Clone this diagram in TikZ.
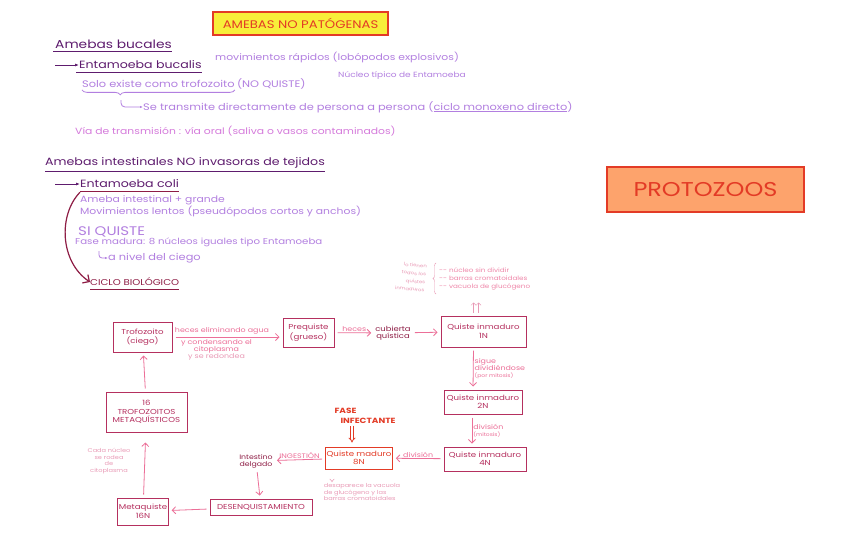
\documentclass[tikz,border=0pt]{standalone}
\usepackage{fontspec}
\setmainfont{Poppins}
\newfontfamily\wide{Poppins}[FakeStretch=1.2]
\usepackage{tikz}
\usetikzlibrary{arrows.meta,positioning,calc,decorations.pathreplacing}
\definecolor{titleyellow}{HTML}{F8EE3A}
\definecolor{titlered}{HTML}{E33B26}
\definecolor{deeppurple}{HTML}{5E1C6E}
\definecolor{lilac}{HTML}{B27FE0}
\definecolor{orchid}{HTML}{D57ADB}
\definecolor{wine}{HTML}{8E1D45}
\definecolor{rosebox}{HTML}{B5305F}
\definecolor{rosearrow}{HTML}{EC6F98}
\definecolor{rosenote}{HTML}{E99AB6}
\definecolor{peach}{HTML}{FDA36C}

\begin{document}
\begin{tikzpicture}[
  x=1pt,y=-1pt,
  hand/.style={inner sep=0pt,anchor=west},
  heading/.style={hand,text=deeppurple,font=\wide\fontsize{10.5}{12}\selectfont},
  soft/.style={hand,text=lilac,font=\wide\fontsize{9}{10}\selectfont},
  stage/.style={draw=rosebox,line width=1pt,text=rosebox,align=center,
    font=\wide\fontsize{7.2}{8.5}\selectfont,inner sep=1pt},
  note/.style={text=rosenote,align=center,inner sep=0pt,font=\wide\fontsize{5.5}{6.5}\selectfont},
  flow/.style={rosearrow,line width=0.8pt,-{Straight Barb[length=3.5pt]},shorten <=3pt,shorten >=3pt},
  lab/.style={text=rosearrow,inner sep=1pt,font=\wide\fontsize{6.6}{7.2}\selectfont}
]
\useasboundingbox[fill=white] (0,0) rectangle (848,544);

% titles
\node[draw=titlered,line width=1.2pt,fill=titleyellow,text=titlered,minimum width=175,
  minimum height=23,font=\wide\fontsize{11}{13}\selectfont] (title) at (300.5,23.5) {AMEBAS NO PATÓGENAS};
\node[draw=titlered,line width=2.5pt,fill=peach,text=titlered,minimum width=197,
  minimum height=45,font=\wide\fontsize{20}{24}\selectfont] (proto) at (705.5,189.5) {PROTOZOOS};

% amebas bucales
\node[heading,font=\wide\fontsize{11.5}{13}\selectfont] (bucales) at (55,44) {Amebas bucales};
\draw[deeppurple,line width=1.6pt] ([xshift=-2,yshift=-3]bucales.south west) -- ([yshift=-3]bucales.south east);
\coordinate (b0) at (55,65);
\node[heading] (bucalis) at (79,65) {Entamoeba bucalis};
\draw[deeppurple,thick,-{Latex[length=4pt]}] (b0) -- (bucalis.west);
\draw[deeppurple,line width=1.2pt] ([xshift=-3,yshift=-3]bucalis.south west) -- ([yshift=-3]bucalis.south east);
\node[soft] (mov) at (215,57) {movimientos rápidos (lobópodos explosivos)};
\node[soft,font=\wide\fontsize{9.5}{10}\selectfont] (solo1) at (82,84) {Solo existe como trofozoito};
\node[soft,font=\wide\fontsize{9.5}{10}\selectfont,right=2pt of solo1] (solo2) {(NO QUISTE)};
\node[soft,font=\wide\fontsize{7.5}{10}\selectfont] (nucleo) at (338,76) {Núcleo típico de Entamoeba};
\draw[lilac,thick,decorate,decoration={brace,mirror,amplitude=5pt,aspect=0.25}]
  ([yshift=-2]solo1.south west) -- ([yshift=-2]solo1.south east);
\coordinate (tip) at (121,100);
\node[soft,font=\wide\fontsize{9.5}{10}\selectfont] (se) at (143,107)
  {Se transmite directamente de persona a persona (\underline{ciclo monoxeno directo})};
\draw[lilac,thick,rounded corners=4pt,-{Latex[length=3pt]}] (tip) |- (se.west);
\node[hand,text=orchid,font=\wide\fontsize{9}{10}\selectfont] (via) at (75,131)
  {Vía de transmisión : vía oral (saliva o vasos contaminados)};

% amebas intestinales
\node[heading] (intest) at (45,163) {Amebas intestinales NO invasoras de tejidos};
\draw[deeppurple,line width=1.2pt] ([yshift=-3]intest.south west) -- ([yshift=-3]intest.south east);
\coordinate (c0) at (55,184);
\node[heading,font=\wide\fontsize{10.5}{11}\selectfont] (coli) at (80,184) {Entamoeba coli};
\draw[deeppurple,thick,-{Latex[length=4pt]}] (c0) -- (coli.west);
\draw[wine,line width=1.2pt] ([yshift=-3]coli.south west) -- ([yshift=-3]coli.south east);
\node[soft] (l1) at (80,200) {Ameba intestinal + grande};
\node[soft] (l2) at (80,211) {Movimientos lentos (pseudópodos cortos y anchos)};
\node[soft,font=\wide\fontsize{12.5}{13}\selectfont] (l3) at (78,232) {SI QUISTE};
\node[soft,font=\wide\fontsize{8.5}{10}\selectfont] (l4) at (75,242) {Fase madura: 8 núcleos iguales tipo Entamoeba};
\coordinate (h5) at (99,251);
\node[soft,font=\wide\fontsize{9.5}{10}\selectfont] (l5) at (108,258) {a nivel del ciego};
\draw[lilac,thick,rounded corners=3pt,-{Latex[length=3pt]}] (h5) |- (l5.west);
\node[hand,text=wine,font=\wide\fontsize{8.5}{9}\selectfont] (ciclo) at (90,282) {CICLO BIOLÓGICO};
\draw[wine,line width=1.2pt] ([yshift=-3]ciclo.south west) -- ([yshift=-3]ciclo.south east);
\draw[wine,line width=1.2pt,-{Straight Barb[length=5pt]}] ([yshift=-4]coli.south west)
  .. controls (58,215) and (60,262) .. (ciclo.west);

% ciclo
\node[stage,minimum width=59,minimum height=30] (troph) at (142.5,337) {Trofozoito\\(ciego)};
\node[stage,minimum width=51,minimum height=29] (preq) at (308.5,332.5) {Prequiste\\(grueso)};
\node[text=wine,align=center,inner sep=1pt,font=\wide\fontsize{7}{7.5}\selectfont] (cub) at (393,333) {cubierta\\quística};
\node[stage,minimum width=85,minimum height=31] (q1) at (483.5,331.5) {Quiste inmaduro\\1N};
\node[stage,minimum width=78,minimum height=24] (q2) at (483,402) {Quiste inmaduro\\2N};
\node[stage,minimum width=82,minimum height=24] (q4) at (485,459) {Quiste inmaduro\\4N};
\node[stage,draw=titlered,text=titlered,minimum width=66,minimum height=22] (q8) at (359,458) {Quiste maduro\\8N};
\node[text=wine,align=center,inner sep=1pt,font=\wide\fontsize{6.5}{7}\selectfont] (intd) at (256,461) {Intestino\\delgado};
\node[stage,minimum width=102,minimum height=16] (desenq) at (261,507) {DESENQUISTAMIENTO};
\node[stage,minimum width=48,minimum height=27] (meta) at (143,511.5) {Metaquiste\\16N};
\node[stage,minimum width=81,minimum height=40] (tro16) at (146.5,412) {16\\TROFOZOITOS\\METAQUÍSTICOS};

\draw[flow] (troph.east) -- node[lab,above=1pt,pos=0.45]{heces eliminando agua}
  node[lab,below=1pt,pos=0.4,align=center]{y condensando el\\citoplasma\\{\color{rosenote}y se redondea}} (troph.east -| preq.west);
\draw[flow] (preq) -- node[lab,above]{heces} (cub);
\draw[flow] (cub) -- (q1);
\draw[flow] ([xshift=-10]q1.south) -- node[lab,right,align=left]{sigue\\dividiéndose\\{\fontsize{5}{6}\selectfont(por mitosis)}} ([xshift=-10]q2.north);
\draw[flow] ([xshift=-11]q2.south) -- node[lab,right,align=left]{división\\{\fontsize{5}{6}\selectfont(mitosis)}} ([xshift=-13]q4.north);
\draw[flow] (q4) -- node[lab,above]{división} (q8);
\draw[flow] (q8) -- node[lab,above]{INGESTIÓN} (intd);
\draw[flow] (intd) -- (desenq);
\draw[flow] (desenq) -- (meta);
\draw[flow,shorten >=10pt] (meta) -- (tro16);
\draw[flow] (tro16) -- (troph);

% notas
\node[text=titlered,align=left,inner sep=0pt,font=\wide\bfseries\fontsize{7.5}{9.5}\selectfont] (fase) at (365,416) {FASE\\\hspace{6pt}INFECTANTE};
\draw[titlered,line width=0.8pt,double distance=1.6pt,-{Implies}] ([xshift=-13,yshift=-2]fase.south) -- ([xshift=-7,yshift=4]q8.north);
\node[note] (cada) at (109,461) {Cada núcleo\\se rodea\\de\\citoplasma};
\node[note,align=left] (desap) at (362,492) {desaparece la vacuola\\de glucógeno y las\\barras cromatoidales};
\draw[rosenote,line width=0.5pt,double distance=1.2pt,-{Implies}] ([xshift=-27,yshift=-4]q8.south) -- ([xshift=-30,yshift=1]desap.north);
\node[note,rotate=-6,align=right,font=\wide\fontsize{4.5}{8}\selectfont] (todos) at (411,277) {lo tienen\\todos los\\quistes\\inmaduros};
\draw[rosenote,decorate,decoration={brace,amplitude=3pt}] (436,294) -- (436,263);
\node[note,align=left,anchor=west,text=rosearrow!85,font=\wide\fontsize{6}{8}\selectfont] (list) at (439,279)
  {-- núcleo sin dividir\\-- barras cromatoidales\\-- vacuola de glucógeno};
\foreach \dx in {-10,-5}
  \draw[rosenote,-{Straight Barb[length=2.5pt]}] ([xshift=\dx,yshift=3]q1.north) -- ([xshift=\dx,yshift=13]q1.north);
\end{tikzpicture}
\end{document}
